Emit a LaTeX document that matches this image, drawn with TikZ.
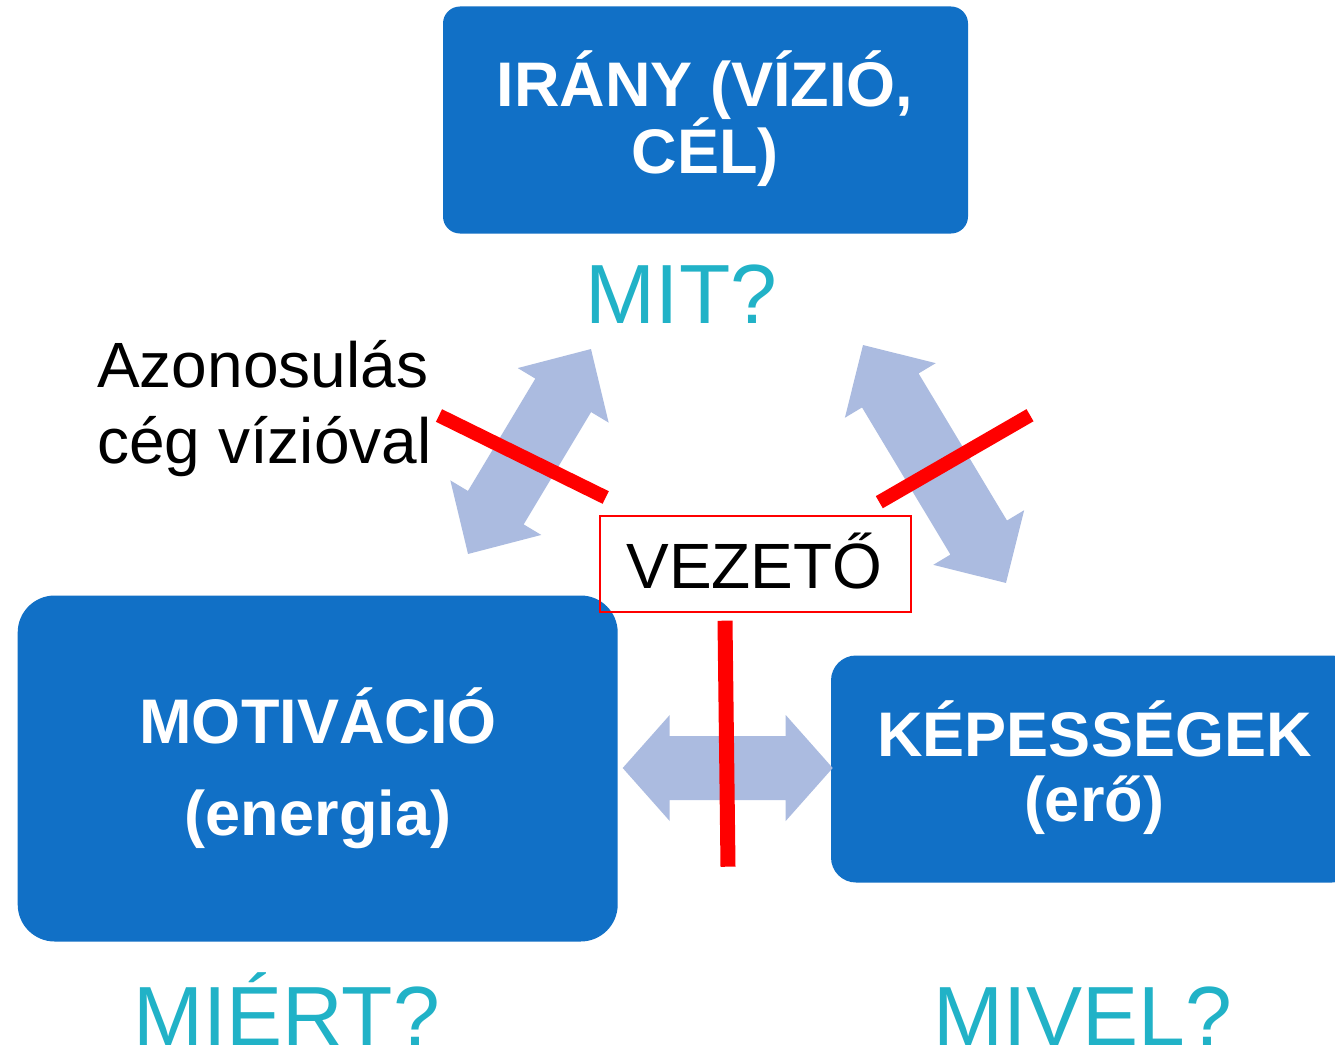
\documentclass[tikz,border=0pt]{standalone}
\usepackage{fontspec}
\setmainfont{Liberation Sans}
\definecolor{boxblue}{RGB}{17,112,198}
\definecolor{qteal}{RGB}{33,178,199}
\definecolor{arrowc}{RGB}{171,187,224}
\newcommand\dblarr[7]{%
  \begin{scope}[shift={(#1,#2)},rotate=#3]
    \fill[arrowc] (-#4,0) -- (-#4+#7,#6) -- (-#4+#7,#5) -- (#4-#7,#5) -- (#4-#7,#6)
      -- (#4,0) -- (#4-#7,-#6) -- (#4-#7,-#5) -- (-#4+#7,-#5) -- (-#4+#7,-#6) -- cycle;
  \end{scope}}
\begin{document}
\begin{tikzpicture}[x=1pt,y=-1pt,
  bluebox/.style={fill=boxblue,draw=none,inner sep=0},
  boxtext/.style={text=white,font=\fontsize{63}{63}\selectfont\bfseries,anchor=base,inner sep=0},
  qtext/.style={text=qteal,font=\fontsize{84}{84}\selectfont,anchor=base,inner sep=0,text depth=0pt},
  plaintext/.style={text=black,font=\fontsize{64}{64}\selectfont,anchor=base west,inner sep=0},
  crossbar/.style={draw=red,line width=14pt}]
\useasboundingbox[fill=white] (0,0) rectangle (1335,1049);

% boxes
\node[bluebox,rounded corners=17pt,minimum width=525pt,minimum height=227pt] (irany) at (705.5,120) {};
\node[bluebox,rounded corners=37pt,minimum width=600pt,minimum height=346pt] (motiv) at (317.7,768.5) {};
\node[bluebox,rounded corners=25pt,minimum width=526pt,minimum height=227pt] (kepes) at (1094,769) {};

% box texts
\node[boxtext] (irany1) at (705,106.7) {IRÁNY (VÍZIÓ,};
\node[boxtext] (irany2) at (705,173.3) {CÉL)};
\node[boxtext] (motiv1) at (318,743.3) {MOTIVÁCIÓ};
\node[boxtext] (motiv2) at (318,835) {(energia)};
\node[boxtext] (kepes1) at (1094.5,756.7) {KÉPESSÉGEK};
\node[boxtext] (kepes2) at (1094,821.7) {(erő)};

% question texts
\node[qtext] (mit) at (681.5,323.3) {MIT?};
\node[qtext] (miert) at (286.5,1045) {MIÉRT?};
\node[qtext] (mivel) at (1083,1045) {MIVEL?};

% side label
\node[plaintext] (azon1) at (97,387) {Azonosulás};
\node[plaintext] (azon2) at (97,463) {cég vízióval};

% double arrows
\dblarr{529.5}{451.5}{59.04}{119.5}{32.5}{53}{54}
\dblarr{934.5}{464}{121.0}{138.8}{33}{53}{53}
\dblarr{727.7}{768}{0}{105}{32}{53}{47}

% crossing bars
\coordinate (la) at (439,415.5);
\coordinate (lb) at (605.7,497.5);
\coordinate (ra) at (1030,415.2);
\coordinate (rb) at (879.3,502.2);
\coordinate (va) at (725,620.7);
\coordinate (vb) at (728,866.7);
\draw[crossbar] (la) -- (lb);
\draw[crossbar] (ra) -- (rb);
\draw[crossbar,line width=15pt] (va) -- (vb);

% leader box
\node[draw=red,line width=1.5pt,minimum width=311pt,minimum height=96pt,inner sep=0] (vezeto) at (755.5,564.2) {};
\node[text=black,font=\fontsize{64}{64}\selectfont,anchor=base,inner sep=0] (vezetotext) at (754.5,588.3) {VEZETŐ};
\end{tikzpicture}
\end{document}
